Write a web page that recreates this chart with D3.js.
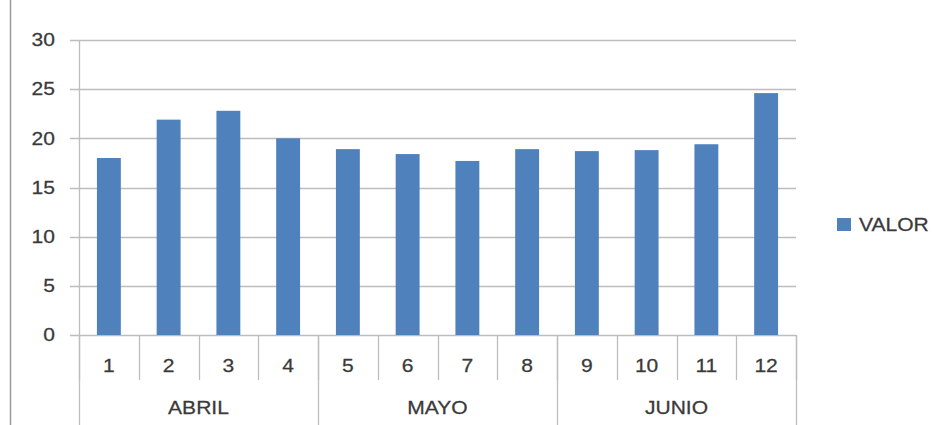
<!DOCTYPE html>
<html>
<head>
<meta charset="utf-8">
<script src="https://cdn.jsdelivr.net/npm/d3@7"></script>
<style>
  body { margin: 0; background: #fff; }
  svg { display: block; }
</style>
</head>
<body>
<div id="viz"></div>
<script>
(function() {

// Data.
let weeks = ["1", "2", "3", "4", "5", "6", "7", "8", "9", "10", "11", "12"];
let values = [18.0, 21.9, 22.8, 20.0, 18.9, 18.4, 17.7, 18.9, 18.7, 18.8, 19.4, 24.6];
let months = ["ABRIL", "MAYO", "JUNIO"];
let monthSpans = [4, 4, 4];
let yTicks = [0, 5, 10, 15, 20, 25, 30];
let seriesName = "VALOR";

let canvasWidth = 947;
let canvasHeight = 425;
let plotLeft = 79;
let plotRight = 796;
let plotTop = 40;
let plotBottom = 335;
let barColor = "#4f81bd";
let gridColor = "#bdbdbd";
let textColor = "#3a3a3a";
let fontFamily = "'Liberation Sans', Arial, sans-serif";
let fontSize = 18;
// The reference text is a little wider than it is tall.
let stretch = 1.17;

let svg = d3.select("#viz").append("svg")
  .attr("width", canvasWidth)
  .attr("height", canvasHeight);

function label(sel, anchor) {
  return sel
    .attr("dy", "0.35em")
    .attr("text-anchor", anchor)
    .attr("font-family", fontFamily)
    .attr("font-size", fontSize)
    .attr("fill", textColor)
    .attr("stroke", textColor)
    .attr("stroke-width", 0.25);
}

// Left frame edge
svg.append("line")
  .attr("x1", 10.5).attr("x2", 10.5)
  .attr("y1", 0).attr("y2", canvasHeight)
  .attr("stroke", "#9a9a9a")
  .attr("stroke-width", 1.5);

let y = d3.scaleLinear()
  .domain([0, 30])
  .range([plotBottom, plotTop]);

let x = d3.scaleBand()
  .domain(weeks)
  .range([plotLeft, plotRight])
  .paddingInner(0.6)
  .paddingOuter(0.3);

let step = (plotRight - plotLeft) / weeks.length;

// Gridlines with outside ticks
svg.append("g").selectAll("line")
  .data(yTicks)
  .enter().append("line")
  .attr("x1", plotLeft - 9)
  .attr("x2", plotRight)
  .attr("y1", (d) => Math.round(y(d)) + 0.5)
  .attr("y2", (d) => Math.round(y(d)) + 0.5)
  .attr("stroke", gridColor)
  .attr("stroke-width", 1.3);

// Y axis labels
svg.append("g").selectAll("text")
  .data(yTicks)
  .enter().append("text")
  .attr("transform", (d) => "translate(55," + y(d) + ") scale(" + stretch + ",1)")
  .call(label, "end")
  .text((d) => d);

// Y axis line
svg.append("line")
  .attr("x1", plotLeft + 0.5).attr("x2", plotLeft + 0.5)
  .attr("y1", plotTop).attr("y2", plotBottom)
  .attr("stroke", gridColor)
  .attr("stroke-width", 1.3);

// Bars
svg.append("g").selectAll("rect")
  .data(values)
  .enter().append("rect")
  .attr("x", (d, i) => x(weeks[i]))
  .attr("y", (d) => y(d))
  .attr("width", x.bandwidth())
  .attr("height", (d) => y(0) - y(d))
  .attr("fill", barColor);

// Category axis: week separators
let weekSep = d3.range(0, weeks.length + 1);
svg.append("g").selectAll("line")
  .data(weekSep)
  .enter().append("line")
  .attr("x1", (d) => Math.round(plotLeft + d * step) + 0.5)
  .attr("x2", (d) => Math.round(plotLeft + d * step) + 0.5)
  .attr("y1", plotBottom)
  .attr("y2", plotBottom + 45)
  .attr("stroke", gridColor)
  .attr("stroke-width", 1.3);

svg.append("g").selectAll("text")
  .data(weeks)
  .enter().append("text")
  .attr("transform", (d) => "translate(" + (x(d) + x.bandwidth() / 2) + ",366) scale(" + stretch + ",1)")
  .call(label, "middle")
  .text((d) => d);

// Month groups
let bounds = [0];
monthSpans.forEach((s, i) => bounds.push(bounds[i] + s));
svg.append("g").selectAll("line")
  .data(bounds)
  .enter().append("line")
  .attr("x1", (d) => Math.round(plotLeft + d * step) + 0.5)
  .attr("x2", (d) => Math.round(plotLeft + d * step) + 0.5)
  .attr("y1", plotBottom)
  .attr("y2", canvasHeight)
  .attr("stroke", gridColor)
  .attr("stroke-width", 1.3);

svg.append("g").selectAll("text")
  .data(months)
  .enter().append("text")
  .attr("transform", (d, i) => "translate(" + (plotLeft + (bounds[i] + bounds[i + 1]) / 2 * step) + ",408) scale(" + stretch + ",1)")
  .call(label, "middle")
  .text((d) => d);

// Legend
let legend = svg.append("g")
  .attr("transform", "translate(837,218)");
legend.append("rect")
  .attr("width", 14).attr("height", 13)
  .attr("fill", barColor);
legend.append("text")
  .attr("transform", "translate(22,7) scale(" + stretch + ",1)")
  .call(label, "start")
  .text(seriesName);

})();
</script>
</body>
</html>
